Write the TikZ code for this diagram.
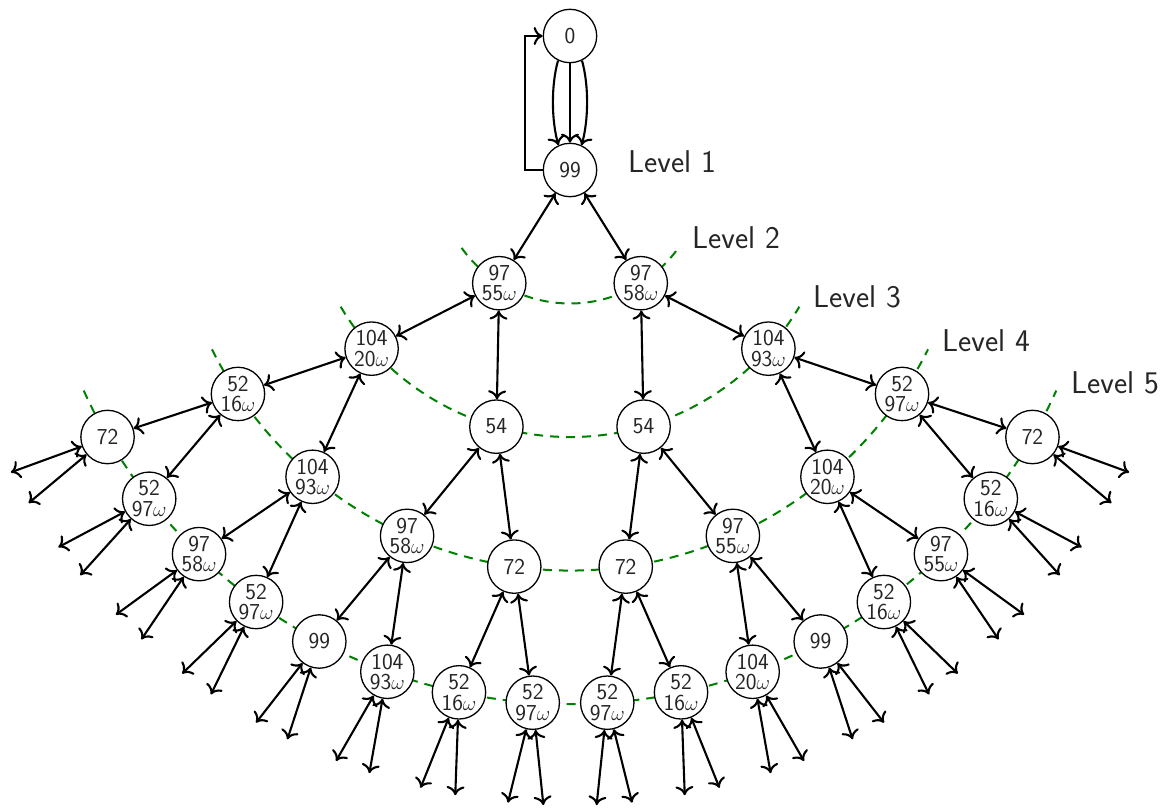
\documentclass[tikz,border=0pt]{standalone}
\usepackage{fontspec}
\usetikzlibrary{arrows.meta}
\newcommand\myNodeFont{\fontsize{22.8}{20.5}\selectfont\sffamily}
\newcommand\myLevelFont{\fontsize{31.5}{38}\selectfont\sffamily}
\begin{document}
\begin{tikzpicture}[x=1pt,y=-1pt,
  n/.style={circle,draw,line width=1.3pt,fill=white,minimum size=53.4pt,inner sep=0pt,align=center,font=\myNodeFont,text=black!85},
  ghost/.style={circle,minimum size=64pt,inner sep=0pt},
  tipa/.tip={Computer Modern Rightarrow[length=9pt,width=18pt,line width=2.1pt]},
  link/.style={line width=2.1pt,tipa-tipa},
  arr/.style={line width=2.1pt,-tipa},
  levelarc/.style={green!50!black,line width=2pt,dash pattern=on 9pt off 7pt},
  lvl/.style={font=\myLevelFont,inner sep=0pt,anchor=base west,text=black!85}]
\useasboundingbox (0,0) rectangle (1175,808);
% level arcs
\foreach \r/\e in {133.5/54.3, 267/59.2, 400.5/63.4, 534/65.6}
  \draw[levelarc] (570,170) ++({90+\e}:\r) arc[start angle={90+\e}, end angle={90-\e}, radius=\r];
% nodes
\node[n] (top) at (570,36) {0};
\node[n] (l1-0) at (570,170) {99};
\foreach \lab [count=\i from 0] in {{97\\55$\omega$},{97\\58$\omega$}}
  \node[n] (l2-\i) at ({570+133.5*sin(-32+64*\i)},{170+133.5*cos(-32+64*\i)}) {\lab};
\foreach \lab [count=\i from 0] in {{104\\20$\omega$},{54},{54},{104\\93$\omega$}}
  \node[n] (l3-\i) at ({570+267*sin(-48+32*\i)},{170+267*cos(-48+32*\i)}) {\lab};
\foreach \lab [count=\i from 0] in {{52\\16$\omega$},{104\\93$\omega$},{97\\58$\omega$},{72},{72},{97\\55$\omega$},{104\\20$\omega$},{52\\97$\omega$}}
  \node[n] (l4-\i) at ({570+400.5*sin(-56+16*\i)},{170+400.5*cos(-56+16*\i)}) {\lab};
\foreach \lab [count=\i from 0] in {{72},{52\\97$\omega$},{97\\58$\omega$},{52\\97$\omega$},{99},{104\\93$\omega$},{52\\16$\omega$},{52\\97$\omega$},{52\\97$\omega$},{52\\16$\omega$},{104\\20$\omega$},{99},{52\\16$\omega$},{97\\55$\omega$},{52\\16$\omega$},{72}}
  \node[n] (l5-\i) at ({570+534*sin(-60+8*\i)},{170+534*cos(-60+8*\i)}) {\lab};
\foreach \i in {0,...,31}
  \node[ghost] (l6-\i) at ({570+667.5*sin(-62+4*\i)},{170+667.5*cos(-62+4*\i)}) {};
% level labels
\node[lvl] (lab1) at (628,172) {Level 1};
\node[lvl] (lab2) at (692,248) {Level 2};
\node[lvl] (lab3) at (813,307) {Level 3};
\node[lvl] (lab4) at (942,351) {Level 4};
\node[lvl] (lab5) at (1071,393) {Level 5};
% root connectors
\draw[arr] (top) -- (l1-0);
\draw[arr] (top.244) .. controls +(-7,25) and +(-7,-25) .. (l1-0.115);
\draw[arr] (top.296) .. controls +(7,25) and +(7,-25) .. (l1-0.65);
\draw[arr] (l1-0.west) -- ++(-18,0) |- (top.west);
% tree connectors
\foreach \k/\last in {1/0,2/1,3/3,4/7,5/15} {
  \pgfmathtruncatemacro\kk{\k+1}
  \foreach \p in {0,...,\last} {
    \pgfmathtruncatemacro\ca{2*\p}
    \pgfmathtruncatemacro\cb{2*\p+1}
    \draw[link] (l\k-\p) -- (l\kk-\ca);
    \draw[link] (l\k-\p) -- (l\kk-\cb);
  }
}
\end{tikzpicture}
\end{document}
